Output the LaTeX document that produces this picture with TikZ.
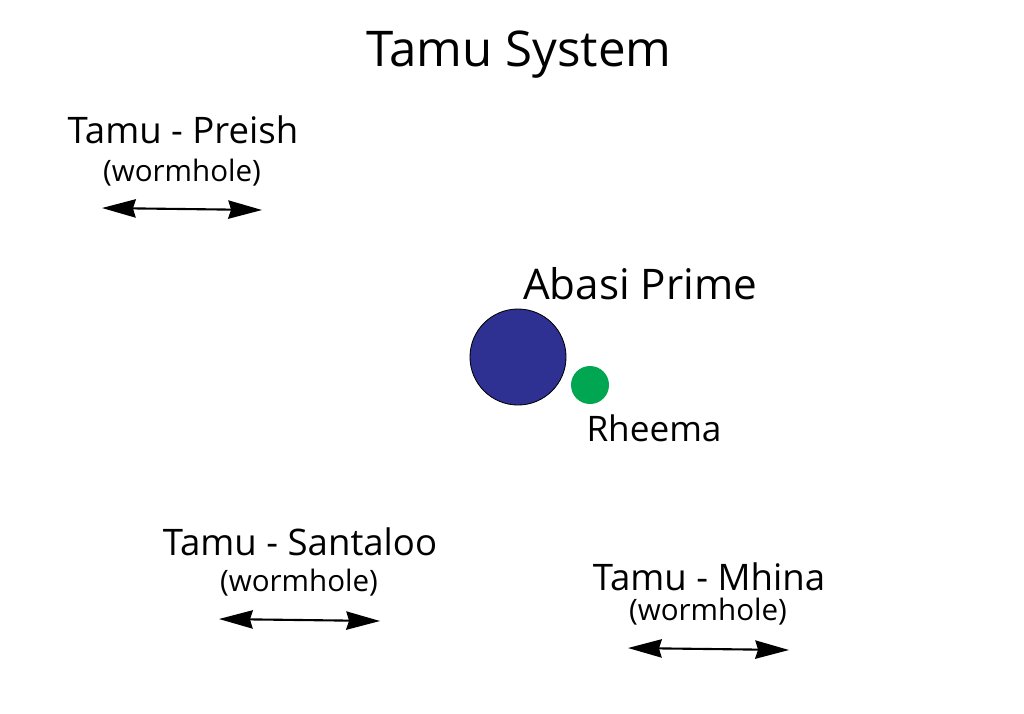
\documentclass[tikz,border=0pt]{standalone}
\usepackage{fontspec}
\setmainfont{Open Sans}
\usetikzlibrary{arrows.meta}
\begin{document}
\begin{tikzpicture}[x=0.025cm,y=-0.025cm,
  big/.style={font=\fontsize{26}{30}\selectfont},
  small/.style={font=\fontsize{21}{25}\selectfont},
  worm/.style={line width=1.5pt,{Stealth[length=24pt,width=13pt,inset=2pt]}-{Stealth[length=24pt,width=13pt,inset=2pt]}}]
\useasboundingbox (0,0) rectangle (1024,713);
\node[font=\fontsize{35}{40}\selectfont] (title) at (519,55) {Tamu System};
\node[big] (p) at (183,130) {Tamu - Preish};
\node[small] (pw) at (182,173) {(wormhole)};
\coordinate (p1) at (102,208); \coordinate (p2) at (262,210);
\draw[worm] (p1) -- (p2);
\node[font=\fontsize{30}{34}\selectfont] (a) at (640,284) {Abasi Prime};
\node[circle,draw=black,line width=0.6pt,fill={rgb,255:red,46;green,49;blue,146},minimum size=2.4cm,inner sep=0pt] (ab) at (518,357) {};
\node[circle,fill={rgb,255:red,0;green,166;blue,81},inner sep=0pt,minimum size=0.95cm] (rh) at (590,385) {};
\node[font=\fontsize{25}{29}\selectfont] (r) at (654,428) {Rheema};
\node[big] (s) at (300,542) {Tamu - Santaloo};
\node[small] (sw) at (299,583) {(wormhole)};
\coordinate (s1) at (219,619); \coordinate (s2) at (380,621);
\draw[worm] (s1) -- (s2);
\node[big] (m) at (709,577) {Tamu - Mhina};
\node[small] (mw) at (708,612) {(wormhole)};
\coordinate (m1) at (628,648); \coordinate (m2) at (789,650);
\draw[worm] (m1) -- (m2);
\end{tikzpicture}
\end{document}
